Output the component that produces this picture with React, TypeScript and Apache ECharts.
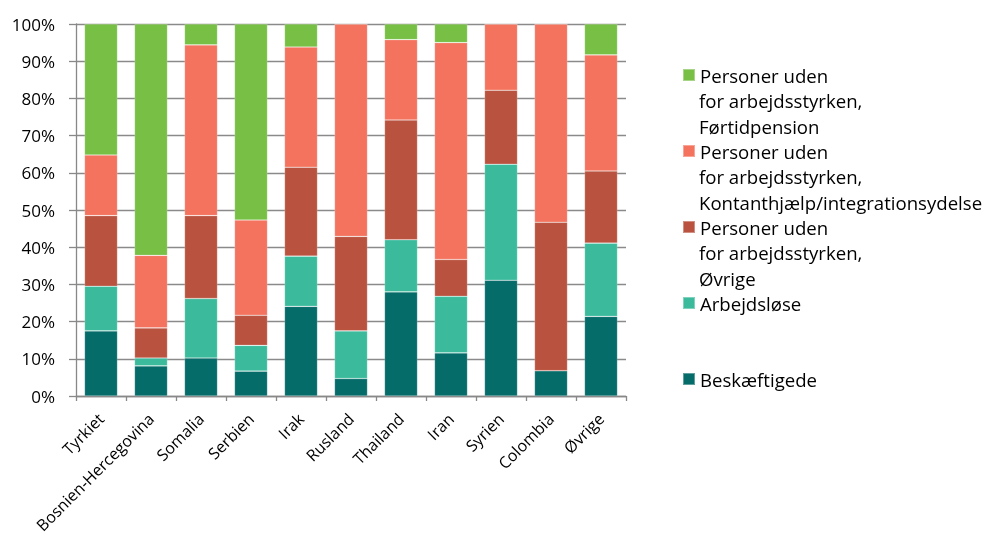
import React, { useEffect, useRef } from "react";
import * as echarts from "echarts";

const categories = ["Tyrkiet", "Bosnien-Hercegovina", "Somalia", "Serbien", "Irak", "Rusland", "Thailand", "Iran", "Syrien", "Colombia", "Øvrige"];
const seriesNames = [
  "Beskæftigede",
  "Arbejdsløse",
  "Personer uden for arbejdsstyrken, Øvrige",
  "Personer uden for arbejdsstyrken, Kontanthjælp/integrationsydelse",
  "Personer uden for arbejdsstyrken, Førtidpension",
];
const beskaeftigede = [17.5, 8.1, 10.2, 6.7, 24.1, 4.7, 28.0, 11.6, 31.1, 6.8, 21.4];
const arbejdsloese = [12.0, 2.1, 16.0, 6.9, 13.5, 12.8, 14.0, 15.2, 31.2, 0.0, 19.7];
const oevrige = [19.0, 8.1, 22.3, 8.1, 23.9, 25.4, 32.2, 9.9, 19.9, 39.9, 19.4];
const kontant = [16.3, 19.5, 45.9, 25.6, 32.3, 57.1, 21.6, 58.3, 17.8, 53.3, 31.2];
const foertid = [35.2, 62.2, 5.6, 52.7, 6.2, 0.0, 4.2, 5.0, 0.0, 0.0, 8.3];
const colors = ["#056c69", "#3bbb9c", "#b9533f", "#f4735e", "#77bf45"];
const legendFirstLine: Record<string, string> = {
  "Beskæftigede": "Beskæftigede",
  "Arbejdsløse": "Arbejdsløse",
  "Personer uden for arbejdsstyrken, Øvrige": "Personer uden",
  "Personer uden for arbejdsstyrken, Kontanthjælp/integrationsydelse": "Personer uden",
  "Personer uden for arbejdsstyrken, Førtidpension": "Personer uden",
};
const legendRest = [
  { series: 4, text: "for arbejdsstyrken,\nFørtidpension" },
  { series: 3, text: "for arbejdsstyrken,\nKontanthjælp/integrationsydelse" },
  { series: 2, text: "for arbejdsstyrken,\nØvrige" },
];

const FONT = "'Open Sans', 'Noto Sans', sans-serif";

export default function App() {
  const ref = useRef<HTMLDivElement>(null);
  useEffect(() => {
    if (!ref.current) return;
    const chart = echarts.init(ref.current, undefined, { renderer: "svg" });
    const values = [beskaeftigede, arbejdsloese, oevrige, kontant, foertid];
    const firstIcon = 75;
    const slot = 76;
    const lh = 25.5;
    const legendOrder = [4, 3, 2, 1, 0];
    const legendFont = 18.6;
    chart.setOption({
      animation: false,
      textStyle: { fontFamily: FONT },
      grid: { left: 76, right: 362, top: 24, bottom: 138, containLabel: false, outerBoundsMode: "none" },
      legend: {
        orient: "vertical",
        left: 682,
        top: firstIcon - 12.5,
        padding: 0,
        itemWidth: 12,
        itemHeight: 12,
        itemGap: slot - 25,
        icon: "rect",
        data: legendOrder.map((i) => seriesNames[i]),
        formatter: (name: string) => legendFirstLine[name],
        textStyle: { fontFamily: FONT, fontSize: legendFont, color: "#000", lineHeight: 25 },
        selectedMode: false,
      },
      graphic: legendRest.map((r) => {
        const idx = legendOrder.indexOf(r.series);
        return {
          type: "text",
          left: 699,
          top: firstIcon + idx * slot + lh - lh / 2,
          style: { text: r.text, fontFamily: FONT, fontSize: legendFont, fill: "#000", lineHeight: lh },
        };
      }),
      xAxis: {
        type: "category",
        data: categories,
        axisLine: { lineStyle: { color: "#888", width: 1.3 } },
        axisTick: { show: true, length: 5, lineStyle: { color: "#888", width: 1.3 } },
        axisLabel: {
          rotate: 45,
          fontSize: 16,
          color: "#000",
          fontFamily: FONT,
          margin: 20,
          interval: 0,
          align: "right",
          verticalAlign: "middle",
        },
      },
      yAxis: {
        type: "value",
        min: 0,
        max: 100,
        interval: 10,
        axisLine: { show: true, lineStyle: { color: "#888", width: 1.3 } },
        axisTick: { show: true, length: 7, lineStyle: { color: "#888", width: 1.3 } },
        axisLabel: {
          fontSize: 17,
          color: "#000",
          fontFamily: FONT,
          margin: 21,
          formatter: (v: number) => v + "%",
        },
        splitLine: { show: true, lineStyle: { color: "#8a8a8a", width: 1.3 } },
      },
      series: values.map((d, i) => ({
        name: seriesNames[i],
        type: "bar",
        stack: "total",
        data: d,
        barWidth: 33,
        itemStyle: { color: colors[i], borderColor: "rgba(255,255,255,0.35)", borderWidth: 0.6 },
        emphasis: { disabled: true },
      })),
    });
    return () => chart.dispose();
  }, []);
  return <div ref={ref} style={{ position: "fixed", left: 0, top: 0, width: 988, height: 534 }} />;
}
